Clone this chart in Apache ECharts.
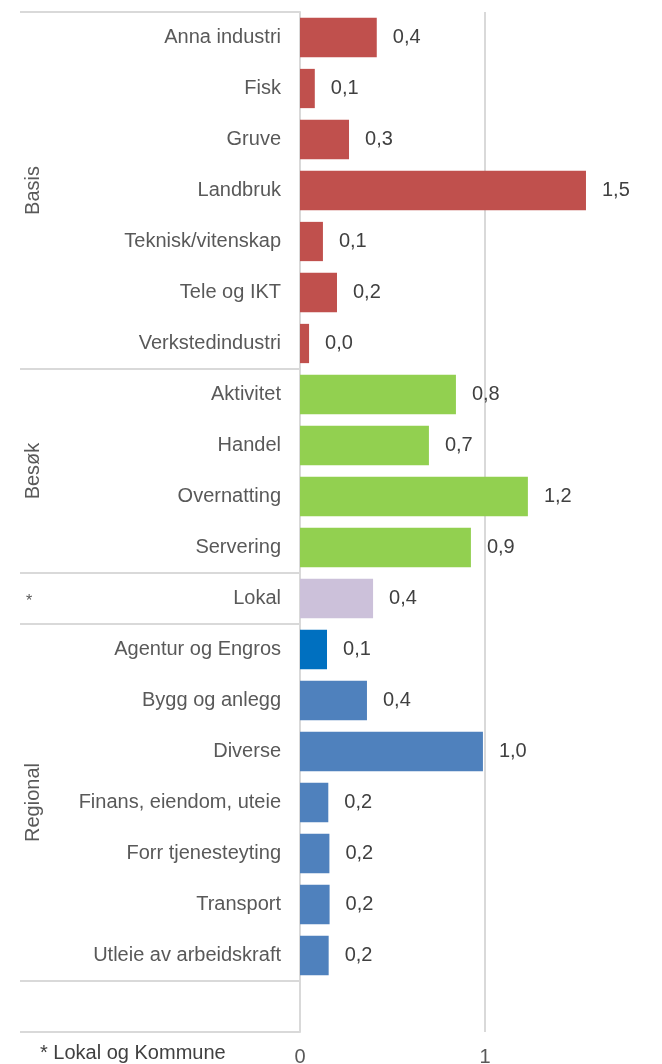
<!DOCTYPE html>
<html>
<head>
<meta charset="utf-8">
<script src="https://cdn.jsdelivr.net/npm/echarts@6/dist/echarts.min.js"></script>
<style>
html,body{margin:0;padding:0;background:#fff;}
#chart{width:662px;height:1064px;}
</style>
</head>
<body>
<div id="chart"></div>
<script>
var categories = ['Anna industri','Fisk','Gruve','Landbruk','Teknisk/vitenskap','Tele og IKT','Verkstedindustri',
  'Aktivitet','Handel','Overnatting','Servering',
  'Lokal',
  'Agentur og Engros','Bygg og anlegg','Diverse','Finans, eiendom, uteie','Forr tjenesteyting','Transport','Utleie av arbeidskraft',
  ''];
var values = [0.415,0.08,0.265,1.546,0.124,0.2,0.049,
  0.843,0.697,1.232,0.924,
  0.395,
  0.146,0.362,0.989,0.153,0.159,0.16,0.155,
  null];
var groupNames = ['Basis','Besøk','*','Regional'];
var groupSizes = [7,4,1,7];
var xTicks = [0,1];
var footnote = '* Lokal og Kommune';

var FONT = "'Liberation Sans', Arial, sans-serif";
var groupColors = {'Basis':'#c0504d','Besøk':'#92d050','*':'#ccc1da','Regional':'#4f81bd'};
var specialColors = {'Agentur og Engros':'#0070c0'};
var X_MAX = 1.957; // visible extent of the value axis (chart is cut at the right edge)

var catGroup = [];
groupNames.forEach(function(g,i){ for(var k=0;k<groupSizes[i];k++) catGroup.push(g); });

var barData = values.map(function(v,i){
  if (v === null) return null;
  var c = specialColors[categories[i]] || groupColors[catGroup[i]];
  return {value: v, itemStyle: {color: c}};
});

var chart = echarts.init(document.getElementById('chart'), null, {renderer:'canvas'});
var option = {
  animation: false,
  backgroundColor: '#ffffff',
  textStyle: {fontFamily: FONT},
  grid: {left: 300, top: 12, bottom: 32, right: 0, containLabel: false, outerBoundsMode: 'none'},
  xAxis: {
    type: 'value', min: 0, max: X_MAX, interval: 1,
    axisLine: {show: false}, axisTick: {show: false},
    axisLabel: {fontSize: 20, color: '#595959', margin: 15, fontFamily: FONT, showMaxLabel: false,
      formatter: function(v){ return xTicks.indexOf(v) >= 0 ? String(v) : ''; }},
    splitLine: {show: true, showMaxLine: false, lineStyle: {color: '#d9d9d9', width: 2}}
  },
  yAxis: {
    type: 'category', inverse: true, data: categories,
    axisLine: {show: true, lineStyle: {color: '#d9d9d9', width: 2}},
    axisTick: {show: false},
    axisLabel: {fontSize: 20, color: '#595959', margin: 19, fontFamily: FONT}
  },
  series: [{
    type: 'bar', data: barData, barCategoryGap: '23%',
    label: {show: true, position: 'right', distance: 16, fontSize: 20, color: '#404040', fontFamily: FONT,
      formatter: function(p){ return p.value.toFixed(1).replace('.', ','); }}
  }]
};
chart.setOption(option);

// separators and group labels computed from the category scale
var c0 = chart.convertToPixel({yAxisIndex:0}, categories[0]);
var c1 = chart.convertToPixel({yAxisIndex:0}, categories[1]);
var band = c1 - c0;
function topOf(i){ return c0 + band*i - band/2; }
var axisX = chart.convertToPixel({xAxisIndex:0}, 0);
var graphics = [];
var bounds = [0];
var acc = 0;
groupSizes.forEach(function(s){ acc += s; bounds.push(acc); });
bounds.push(categories.length);
bounds.forEach(function(b){
  var y = Math.round(topOf(b));
  graphics.push({type:'line', shape:{x1:20, y1:y, x2:axisX, y2:y}, style:{stroke:'#d9d9d9', lineWidth:2}, z:1});
});
var start = 0;
groupNames.forEach(function(g,i){
  var end = start + groupSizes[i];
  var cy = (topOf(start) + topOf(end))/2;
  if (g.length > 1) {
    graphics.push({type:'text', x:33, y:cy, rotation:Math.PI/2,
      style:{text:g, fontSize:20, fill:'#595959', fontFamily:FONT, align:'center', verticalAlign:'middle'}});
  } else {
    graphics.push({type:'text', x:29, y:cy+3,
      style:{text:g, fontSize:16, fill:'#595959', fontFamily:FONT, align:'center', verticalAlign:'middle'}});
  }
  start = end;
});
graphics.push({type:'text', x:40, y:1053,
  style:{text:footnote, fontSize:20, fill:'#404040', fontFamily:FONT, align:'left', verticalAlign:'middle'}});
chart.setOption({graphic: graphics});
</script>
</body>
</html>
